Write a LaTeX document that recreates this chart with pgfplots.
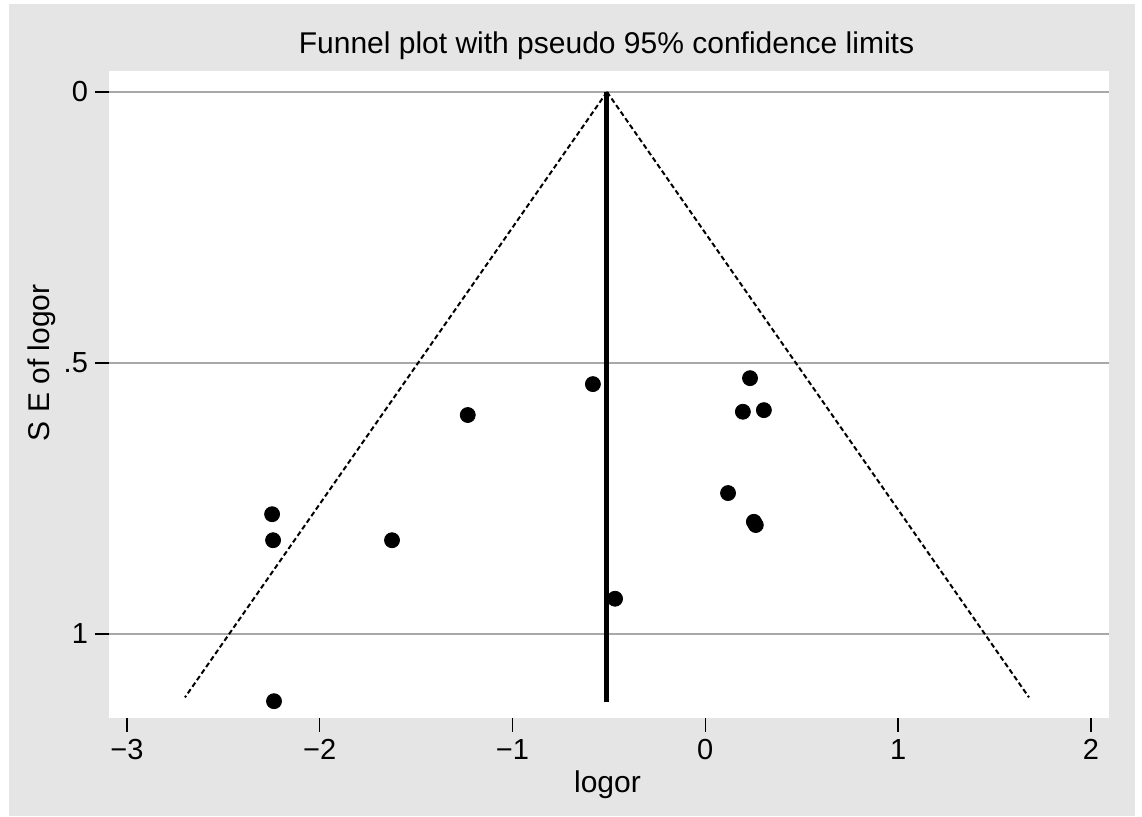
\documentclass[border=0pt]{standalone}
\usepackage{fontspec}
\setmainfont{Liberation Sans}
\usepackage{pgfplots}
\pgfplotsset{compat=1.18}
\definecolor{stbg}{HTML}{E5E5E5}
\definecolor{stgrid}{HTML}{A8A8A8}

% study estimates: logor, SE of logor
\pgfplotstableread{
x y
-2.247 0.779
-2.242 0.827
-1.625 0.827
-1.232 0.596
-0.583 0.539
-0.468 0.935
-2.237 1.124
0.232 0.528
0.195 0.590
0.304 0.587
0.118 0.740
0.252 0.793
0.262 0.799
}\studies

\begin{document}
\begin{tikzpicture}
% 1 px of the reference = 0.5pt, axis SW corner at (0,0)
\useasboundingbox (-54.5pt,-49.5pt) rectangle (516.5pt,359pt);
\fill[stbg] (-50pt,-49pt) rectangle (513pt,357pt);
\begin{axis}[
  at={(0,0)}, anchor=south west,
  scale only axis, width=500pt, height=323.5pt,
  xmin=-3.093, xmax=2.094, ymin=-0.0387, ymax=1.155,
  y dir=reverse,
  axis background/.style={fill=white},
  axis line style={draw=none},
  xtick={-3,-2,-1,0,1,2}, xticklabels={−3,−2,−1,0,1,2},
  ytick={0,0.5,1}, yticklabels={0,.5,1},
  xtick pos=bottom, ytick pos=left,
  tick align=outside, major tick length=7pt,
  tick style={black, line width=0.7pt},
  ymajorgrids, grid style={stgrid, line width=0.7pt},
  ticklabel style={font=\fontsize{14.5}{17}\selectfont},
  label style={font=\fontsize{15}{18}\selectfont},
  every axis title shift=0pt,
  title style={font=\fontsize{15}{18}\selectfont},
  title={Funnel plot with pseudo 95\% confidence limits},
  title style={at={(axis description cs:0.4975,1.0263)}, anchor=base},
  xlabel={logor},
  xlabel style={at={(axis description cs:0.4985,-0.1144)}, anchor=base},
  ylabel={S E of logor},
  ylabel style={at={(axis description cs:-0.059,0.549)}, anchor=base},
]
\addplot[black, line width=1pt, dash pattern=on 2.5pt off 1.5pt] coordinates {(-0.51,0) (-2.699,1.117)};
\addplot[black, line width=1pt, dash pattern=on 2.5pt off 1.5pt] coordinates {(-0.51,0) (1.679,1.117)};
\addplot[black, line width=2.5pt] coordinates {(-0.51,0) (-0.51,1.125)};
\addplot[only marks, mark=*, mark size=3.75pt, black] table {\studies};
\end{axis}
\end{tikzpicture}
\end{document}
